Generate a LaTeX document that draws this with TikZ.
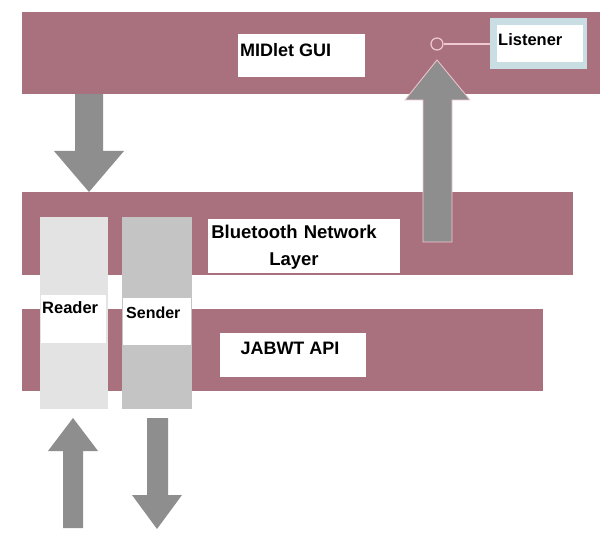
\documentclass[tikz,border=0pt]{standalone}
\usepackage{fontspec}
\setmainfont{Liberation Sans}
\definecolor{barpink}{RGB}{169,113,126}
\definecolor{arrowgrey}{RGB}{142,142,142}
\definecolor{readergrey}{RGB}{227,227,227}
\definecolor{sendergrey}{RGB}{196,196,196}
\definecolor{lightblue}{RGB}{200,222,226}
\definecolor{pinkline}{RGB}{240,200,210}
\begin{document}
\begin{tikzpicture}[x=1pt,y=-1pt,
  box/.style={anchor=north west, inner sep=0pt, outer sep=0pt, draw=none},
  bar/.style={box, fill=barpink},
  whitebox/.style={box, fill=white},
  lbl/.style={inner sep=0pt, font=\bfseries\fontsize{#1}{#1}\selectfont},
  blockarrow/.style={fill=arrowgrey, draw=none}]
\useasboundingbox (0,0) rectangle (605,537);
\fill[white] (0,0) rectangle (605,537);
% layers
\node[bar, minimum width=578pt, minimum height=82pt] (gui) at (22,12) {};
\node[bar, minimum width=551pt, minimum height=83pt] (bnl) at (22,192) {};
\node[bar, minimum width=521pt, minimum height=82pt] (jab) at (22,309) {};
% reader / sender columns
\node[box, fill=readergrey, minimum width=68pt, minimum height=192pt] (rcol) at (40,217) {};
\node[whitebox, minimum width=65pt, minimum height=48pt] (rwhite) at (41,295) {};
\node[box, fill=sendergrey, minimum width=70pt, minimum height=192pt] (scol) at (122,217) {};
\node[whitebox, minimum width=68pt, minimum height=47pt] (swhite) at (123,298) {};
% label boxes
\node[whitebox, minimum width=127pt, minimum height=43pt] (guilab) at (238,34) {};
\node[box, fill=lightblue, minimum width=97pt, minimum height=51pt] (lisout) at (490,18) {};
\node[whitebox, minimum width=86pt, minimum height=37pt] (lisin) at (497,25) {};
\node[whitebox, minimum width=192pt, minimum height=54pt] (bnllab) at (208,219) {};
\node[whitebox, minimum width=146pt, minimum height=44pt] (jablab) at (220,333) {};
% texts
\node[lbl=18, anchor=west] (guitxt) at (240,50) {MIDlet GUI};
\node[lbl=16.5, anchor=west] (listxt) at (498,40) {Listener};
\node[lbl=18.5, align=center, text width=192pt] (bnltxt) at (294,247) {Bluetooth Network\\[8pt]Layer};
\node[lbl=18] (jabtxt) at (290,348) {JABWT API};
\node[lbl=16.5, anchor=west] (rtxt) at (42,308) {Reader};
\node[lbl=16, anchor=west] (stxt) at (126,313) {Sender};
% listener port
\node[circle, draw=pinkline, fill=barpink, line width=1.2pt, minimum size=12pt, inner sep=0pt] (port) at (437,44) {};
\draw[pinkline, line width=1.2pt] (port.east) -- (lisout.west |- port.east);
% block arrows
\fill[blockarrow] (75,94) -- (103,94) -- (103,151) -- (124,151) -- (89,192) -- (54,151) -- (75,151) -- cycle;
\filldraw[blockarrow, draw=pinkline, line width=0.8pt] (423,242) -- (423,100) -- (405,100) -- (437,60) -- (470,100) -- (452,100) -- (452,242) -- cycle;
\fill[blockarrow] (63,528) -- (63,451) -- (48,451) -- (73,418) -- (98,451) -- (83,451) -- (83,528) -- cycle;
\fill[blockarrow] (147,418) -- (168,418) -- (168,495) -- (182,495) -- (157,529) -- (132,495) -- (147,495) -- cycle;
\end{tikzpicture}
\end{document}
